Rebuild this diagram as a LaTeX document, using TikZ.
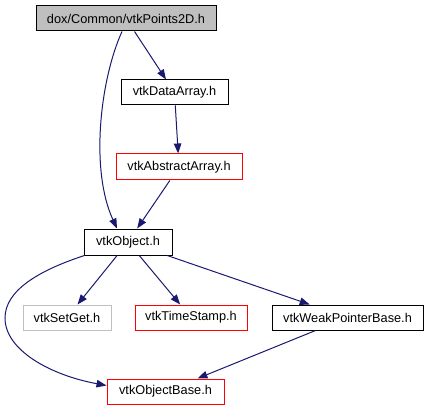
\documentclass[tikz,border=0pt]{standalone}
\usepackage{fontspec}
\setmainfont{Liberation Sans}
\usetikzlibrary{arrows.meta}
\definecolor{edgeblue}{RGB}{25,25,112}
\definecolor{boxgray}{RGB}{191,191,191}
\tikzset{
  box/.style={draw=black, line width=1pt, rectangle, inner sep=0pt, minimum height=25pt,
    font=\fontsize{12.75}{15}\selectfont, text=black},
  redbox/.style={box, draw=red},
  graybox/.style={box, draw=boxgray},
  edge/.style={draw=edgeblue, line width=1pt, -{Triangle[length=10pt,width=7.5pt]}},
}
\begin{document}
\begin{tikzpicture}[x=1pt,y=-1pt]
\useasboundingbox (0,0) rectangle (427,411);
\node[box, fill=boxgray, minimum width=180pt] (top) at (126,18.5) {dox/Common/vtkPoints2D.h};
\node[box, minimum width=107pt] (da) at (174.5,92.5) {vtkDataArray.h};
\node[redbox, minimum width=126pt, minimum height=26pt] (aa) at (179,167) {vtkAbstractArray.h};
\node[box, minimum width=88pt, minimum height=26pt] (obj) at (128,242) {vtkObject.h};
\node[graybox, minimum width=88pt] (sg) at (67,317.5) {vtkSetGet.h};
\node[redbox, minimum width=112pt] (ts) at (191,317.5) {vtkTimeStamp.h};
\node[box, minimum width=151pt] (wp) at (347.5,317.5) {vtkWeakPointerBase.h};
\node[redbox, minimum width=117pt] (ob) at (165.5,391.5) {vtkObjectBase.h};

\draw[edge] (top) -- (da);
\draw[edge] (da) -- (aa);
\draw[edge] (aa) -- (obj);
\draw[edge] ([xshift=-4pt]top.south) .. controls (100,80) and (90,170) .. ([xshift=-11pt]obj.north);
\draw[edge] (obj) -- (sg);
\draw[edge] (obj) -- (ts);
\draw[edge] (obj) -- (wp);
\draw[edge] (wp) -- (ob);
\draw[edge] ([xshift=1pt]obj.south west) .. controls (40,270) and (5,290) .. (5,318)
  .. controls (5,350) and (50,375) .. ([yshift=6pt]ob.west);
\end{tikzpicture}
\end{document}
